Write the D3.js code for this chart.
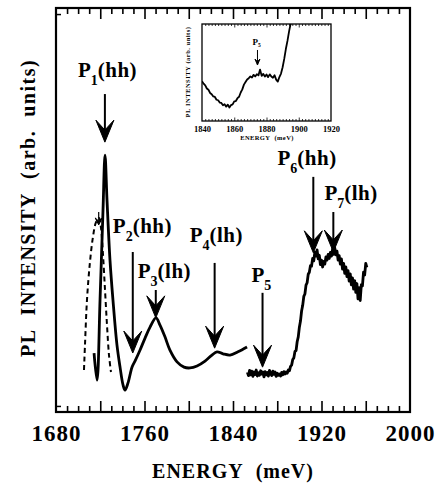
<!DOCTYPE html>
<html>
<head>
<meta charset="utf-8">
<script src="https://cdn.jsdelivr.net/npm/d3@7"></script>
<style>
  body { margin: 0; background: #fff; }
  svg { display: block; }
  text { font-family: "Liberation Serif", "Times New Roman", serif; font-weight: bold; fill: #000; }
</style>
</head>
<body>
<script>
// ---- data ----
// solid PL spectrum, low energy part
const solidE = [1714.4,1717.1,1719.8,1722.5,1724.3,1726.1,1728.8,1731.5,1735.1,1737.9,1740.6,1742.4,1745.1,1748.7,1751.4,1755.9,1760.5,1765,1770.4,1774,1778.5,1783,1789.4,1795.7,1801.1,1807.5,1814.7,1821,1825.5,1831,1837.3,1844.5,1852.7];
const solidI = [14.6,7.9,27.7,50,63.6,52.5,37.6,27.7,16.6,11.1,6.7,5.4,7.2,11.1,12.6,15.3,18.3,21,23.3,21.5,18.6,15.3,12.4,11.1,10.9,11.4,12.6,14.1,14.9,14.4,14.1,14.9,16.1];

// dashed spectrum
const dashE = [1705.3,1706.2,1708,1710.7,1713.4,1716.2,1718.9,1720.7,1722.5,1724.3,1726.1,1727.9,1729.7];
const dashI = [10.4,16.6,27.7,37.1,43.3,47,48,45.5,38.9,30.2,21.5,14.1,9.9];

// noisy high energy spectrum
const noisyE = [1853,1854,1855,1856,1857,1858,1859,1860,1861,1862,1863,1864,1865,1866,1867,1868,1869,1870,1871,1872,1873,1874,1875,1876,1877,1878,1879,1880,1881,1882,1883,1884,1885,1886,1887,1888,1889,1890,1891,1892,1893,1894,1895,1896,1897,1898,1899,1900,1901,1902,1903,1904,1905,1906,1907,1908,1909,1910,1911,1912,1913,1914,1915,1916,1917,1918,1919,1920,1921,1922,1923,1924,1925,1926,1927,1928,1929,1930,1931,1932,1933,1934,1935,1936,1937,1938,1939,1940,1941,1942,1943,1944,1945,1946,1947,1948,1949,1950,1951,1952,1953,1954,1955,1956,1957,1958,1959,1960,1961];
const noisyI = [9.8,9.0,10.3,9.2,10.1,8.8,9.9,9.3,10.4,8.9,9.7,9.1,10.2,9.4,9.9,8.7,10.0,9.2,9.8,8.9,10.3,9.5,9.0,10.1,9.3,9.9,8.8,9.6,9.1,9.4,8.9,9.8,9.2,10.0,9.4,9.9,9.6,10.4,10.2,11.3,11.6,13.0,13.4,15.0,15.2,17.4,18.6,21.0,22.5,25.0,26.4,28.6,29.2,31.4,32.0,34.1,34.6,36.2,36.1,38.0,37.4,39.6,38.6,40.1,37.9,38.8,36.5,37.6,35.9,37.3,36.6,38.4,37.6,39.0,38.0,39.5,38.6,40.3,39.0,40.6,38.9,39.8,37.6,38.7,36.6,37.9,35.4,36.8,34.3,35.9,33.5,35.0,32.4,34.2,31.5,33.2,30.4,32.5,29.6,31.8,28.0,30.8,27.6,31.5,31.2,34.6,33.9,36.8,35.8];

// inset spectrum
const insetE = [1840,1841,1842,1843,1844,1845,1846,1847,1848,1849,1850,1851,1852,1853,1854,1855,1856,1857,1858,1859,1860,1861,1862,1863,1864,1865,1866,1867,1868,1869,1870,1871,1872,1873,1874,1875,1876,1877,1878,1879,1880,1881,1882,1883,1884,1885,1886,1887,1888,1889,1890,1891,1892,1893,1894,1895,1896];
const insetI = [41.0,38.5,36.8,33.5,32.2,28.9,27.6,25.3,24.8,21.9,21.4,19.0,18.6,16.2,17.3,14.8,16.9,13.9,16.4,17.1,20.3,20.6,23.5,25.0,29.4,32.6,37.5,40.2,42.8,44.1,45.9,44.8,47.6,45.9,48.3,47.0,53.0,46.5,48.6,45.8,47.9,45.2,48.1,45.9,44.6,47.2,42.7,40.6,45.3,48.9,55.4,64.0,74.2,82.6,92.4,100.5,107];

// peak annotations
const peakSub  = ["1","2","3","4","5","6","7"];
const peakTail = ["(hh)","(hh)","(lh)","(lh)","","(hh)","(lh)"];
const labelE   = [1699.8,1731.4,1753.9,1800.8,1856.7,1880.2,1922.6];
const labelI   = [82.9,44.3,33.2,42.1,32.2,61.1,52.5];
const arrowE   = [1724.2,1749.4,1770.2,1823.4,1866.7,1912.6,1930.7];
const arrowTop = [78.7,39.6,30.2,36.9,29.5,58.2,49.5];
const arrowTip = [66.8,14.6,23.3,15.8,11.1,39.4,39.6];

const xTickLabels = [1680,1760,1840,1920,2000];
const insetTickLabels = [1840,1860,1880,1900,1920];

// ---- layout ----
const W = 446, H = 484;
const frame = {left: 56, right: 410, top: 8, bottom: 412};
const box = {left: 202, right: 331, top: 24, bottom: 121};

const svg = d3.select("body").append("svg").attr("width", W).attr("height", H);
svg.append("rect").attr("width", W).attr("height", H).attr("fill", "#fff");

const x = d3.scaleLinear().domain([1680, 2000]).range([frame.left, frame.right]);
const y = d3.scaleLinear().domain([0, 100]).range([frame.bottom, frame.top]);

function tickAxis(axisFn, scale, vals, size, ty) {
  const g = svg.append("g").attr("transform", "translate(0," + ty + ")")
    .call(axisFn(scale).tickValues(vals).tickSize(size).tickFormat(""));
  g.select(".domain").remove();
  g.selectAll("line").attr("stroke", "#000").attr("stroke-width", 1.6);
  return g;
}
const minor = d3.range(1690, 2000, 10).filter(v => v % 40 !== 0);
const major = d3.range(1720, 2000, 40);
tickAxis(d3.axisBottom, x, minor, 6, frame.top);
tickAxis(d3.axisBottom, x, major, 11, frame.top);
tickAxis(d3.axisTop, x, minor, 6, frame.bottom);
tickAxis(d3.axisTop, x, major, 11, frame.bottom);
// left side ticks (only near the ends are visible)
const yl = svg.append("g").attr("transform", "translate(" + frame.left + ",0)")
  .call(d3.axisRight(y).tickValues([98.5, 1.5]).tickSize(5).tickFormat(""));
yl.select(".domain").remove();
yl.selectAll("line").attr("stroke", "#000").attr("stroke-width", 1.5);

svg.append("rect")
  .attr("x", frame.left).attr("y", frame.top)
  .attr("width", frame.right - frame.left).attr("height", frame.bottom - frame.top)
  .attr("fill", "none").attr("stroke", "#000").attr("stroke-width", 2.2);

// tick labels
const xl = svg.append("g").attr("transform", "translate(0," + frame.bottom + ")")
  .call(d3.axisBottom(x).tickValues(xTickLabels).tickSize(0).tickFormat(d3.format("d")));
xl.select(".domain").remove();
xl.selectAll("text").attr("y", 29).attr("dy", null)
  .attr("font-size", 23).attr("letter-spacing", 1)
  .style("font-family", "Liberation Serif").style("font-weight", "bold");

svg.append("text").attr("x", 233).attr("y", 478).attr("text-anchor", "middle")
  .attr("font-size", 20).attr("letter-spacing", 1)
  .text("ENERGY\u00a0\u00a0(meV)");

svg.append("text").attr("transform", "translate(35,208) rotate(-90)")
  .attr("text-anchor", "middle").attr("font-size", 20).attr("letter-spacing", 1.5)
  .text("PL\u00a0\u00a0INTENSITY\u00a0\u00a0(arb.\u00a0\u00a0units)");

// curves
const line = d3.line().x(d => x(d[0])).y(d => y(d[1]));
svg.append("path").datum(d3.zip(dashE, dashI))
  .attr("d", line.curve(d3.curveCatmullRom)).attr("fill", "none")
  .attr("stroke", "#000").attr("stroke-width", 2).attr("stroke-dasharray", "5,3.5");
svg.append("path").datum(d3.zip(solidE, solidI))
  .attr("d", line.curve(d3.curveCatmullRom)).attr("fill", "none")
  .attr("stroke", "#000").attr("stroke-width", 2.8).attr("stroke-linejoin", "round");
svg.append("path").datum(d3.zip(noisyE, noisyI))
  .attr("d", line.curve(d3.curveLinear)).attr("fill", "none")
  .attr("stroke", "#000").attr("stroke-width", 2.8).attr("stroke-linejoin", "round");

// arrows
function arrow(g, ax, top, tip, len, half, w) {
  g.append("line").attr("x1", ax).attr("x2", ax).attr("y1", top).attr("y2", tip - len * 0.5)
    .attr("stroke", "#000").attr("stroke-width", w);
  g.append("path")
    .attr("d", `M${ax},${tip} L${ax - half},${tip - len} L${ax},${tip - len * 0.55} L${ax + half},${tip - len} Z`)
    .attr("fill", "#000").attr("stroke", "#000").attr("stroke-width", 1).attr("stroke-linejoin", "miter");
}
const ann = svg.append("g");
peakSub.forEach((s, i) => {
  arrow(ann, x(arrowE[i]), y(arrowTop[i]), y(arrowTip[i]), 22, 9, 2);
  const t = ann.append("text").attr("x", x(labelE[i])).attr("y", y(labelI[i])).attr("font-size", 21);
  t.append("tspan").text("P");
  t.append("tspan").attr("font-size", 14).attr("dy", 8).text(s);
  if (peakTail[i]) t.append("tspan").attr("dy", -8).attr("letter-spacing", 0.5).text(peakTail[i]);
});
// small marker on the dashed peak
arrow(ann, x(1718.6), y(49.5), y(46.3), 7, 3.5, 1.2);

// ---- inset ----
const xi = d3.scaleLinear().domain([1840, 1920]).range([box.left, box.right]);
const yi = d3.scaleLinear().domain([0, 100]).range([box.bottom, box.top]);
const ins = svg.append("g");
ins.append("rect").attr("x", box.left).attr("y", box.top)
  .attr("width", box.right - box.left).attr("height", box.bottom - box.top).attr("fill", "#fff");
ins.append("clipPath").attr("id", "insclip").append("rect")
  .attr("x", box.left).attr("y", box.top)
  .attr("width", box.right - box.left).attr("height", box.bottom - box.top);

function insTicks(axisFn, vals, size, ty) {
  const g = ins.append("g").attr("transform", "translate(0," + ty + ")")
    .call(axisFn(xi).tickValues(vals).tickSize(size).tickFormat(""));
  g.select(".domain").remove();
  g.selectAll("line").attr("stroke", "#000").attr("stroke-width", 0.8);
}
const iMinor = d3.range(1842, 1920, 2).filter(v => v % 20 !== 0);
const iMajor = [1860, 1880, 1900];
insTicks(d3.axisBottom, iMinor, 2, box.top);
insTicks(d3.axisBottom, iMajor, 3.5, box.top);
insTicks(d3.axisTop, iMinor, 2, box.bottom);
insTicks(d3.axisTop, iMajor, 3.5, box.bottom);

ins.append("path").datum(d3.zip(insetE, insetI))
  .attr("clip-path", "url(#insclip)")
  .attr("d", d3.line().x(d => xi(d[0])).y(d => yi(d[1]))).attr("fill", "none")
  .attr("stroke", "#000").attr("stroke-width", 1.8).attr("stroke-linejoin", "round");

ins.append("rect").attr("x", box.left).attr("y", box.top)
  .attr("width", box.right - box.left).attr("height", box.bottom - box.top)
  .attr("fill", "none").attr("stroke", "#000").attr("stroke-width", 1.3);

const il = ins.append("g").attr("transform", "translate(0," + box.bottom + ")")
  .call(d3.axisBottom(xi).tickValues(insetTickLabels).tickSize(0).tickFormat(d3.format("d")));
il.select(".domain").remove();
il.selectAll("text").attr("y", 11).attr("dy", null).attr("font-size", 8.5)
  .style("font-family", "Liberation Serif").style("font-weight", "bold");

ins.append("text").attr("x", 267).attr("y", 139.5).attr("text-anchor", "middle")
  .attr("font-size", 6.5).attr("letter-spacing", 0.4).text("ENERGY\u00a0\u00a0(meV)");
ins.append("text").attr("transform", "translate(189.5,72) rotate(-90)").attr("text-anchor", "middle")
  .attr("font-size", 6.5).attr("letter-spacing", 0.5).text("PL\u00a0INTENSITY\u00a0(arb.\u00a0units)");

arrow(ins, xi(1874.4), yi(73.2), yi(57.7), 6, 2.5, 1);
const ip = ins.append("text").attr("x", xi(1871.3)).attr("y", yi(78.4)).attr("font-size", 9);
ip.append("tspan").text("P");
ip.append("tspan").attr("font-size", 5.5).attr("dy", 2.5).text("5");
</script>
</body>
</html>
